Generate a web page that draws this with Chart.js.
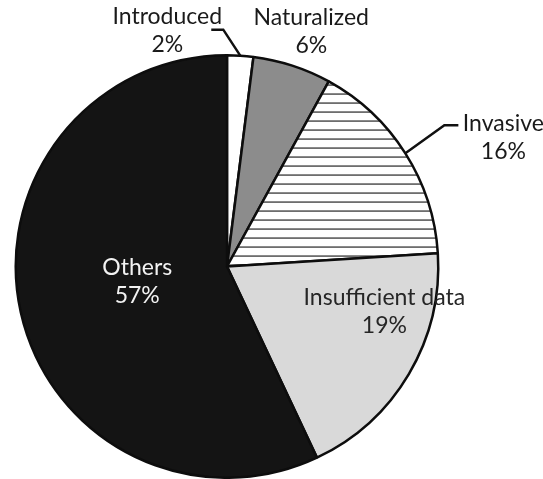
<!DOCTYPE html>
<html>
<head>
<meta charset="utf-8">
<script src="https://cdn.jsdelivr.net/npm/chart.js@4.4.1/dist/chart.umd.min.js"></script>
<style>
  html, body { margin: 0; padding: 0; background: #ffffff; }
  #wrap { width: 543px; height: 479px; }
</style>
</head>
<body>
<div id="wrap"><canvas id="pie" width="543" height="479"></canvas></div>
<script>
// Status categories, clockwise from 12 o'clock
const categories = ['Introduced', 'Naturalized', 'Invasive', 'Insufficient data', 'Others'];
// Share of species in each category (%)
const shares = [2, 6, 16, 19, 57];
// Percentage labels printed under each category name
const shareLabels = ['2%', '6%', '16%', '19%', '57%'];

// Horizontal hatching for the "Invasive" slice
function hatchPattern() {
  const c = document.createElement('canvas');
  c.width = 8; c.height = 9;
  const g = c.getContext('2d');
  g.fillStyle = '#ffffff';
  g.fillRect(0, 0, 8, 9);
  g.fillStyle = '#8a8a8a';
  g.fillRect(0, 3, 8, 2);
  g.fillStyle = '#6e6e6e';
  g.fillRect(0, 4, 8, 1);
  return g.createPattern(c, 'repeat');
}

const ctx = document.getElementById('pie').getContext('2d');
const fills = ['#ffffff', '#8c8c8c', hatchPattern(), '#d9d9d9', '#141414'];

const FONT = '23px Lato, "Open Sans", sans-serif';
const LINE = 28;

// Draws category names, percentages and leader lines
const sliceLabels = {
  id: 'sliceLabels',
  afterDatasetsDraw(chart) {
    const g = chart.ctx;
    const arcs = chart.getDatasetMeta(0).data;
    g.save();
    g.font = FONT;
    g.textAlign = 'center';
    g.textBaseline = 'middle';

    const edge = (arc) => {
      const p = arc.getProps(['x', 'y', 'startAngle', 'endAngle', 'outerRadius'], true);
      const mid = (p.startAngle + p.endAngle) / 2;
      return { cx: p.x, cy: p.y, r: p.outerRadius, x: p.x + Math.cos(mid) * p.outerRadius, y: p.y + Math.sin(mid) * p.outerRadius };
    };
    const twoLines = (i, x, y, color) => {
      g.fillStyle = color;
      g.fillText(categories[i], x, y);
      g.fillText(shareLabels[i], x, y + LINE);
    };

    g.strokeStyle = '#111111';
    g.lineWidth = 2.5;
    g.lineJoin = 'miter';

    // Introduced: leader line up-left to the name
    let e = edge(arcs[0]);
    g.beginPath();
    g.moveTo(e.x, e.y);
    g.lineTo(e.x - 17, e.y - 26);
    g.lineTo(e.x - 29, e.y - 26);
    g.stroke();
    twoLines(0, e.x - 73, e.y - 39, '#1a1a1a');

    // Naturalized: name just above the slice
    e = edge(arcs[1]);
    twoLines(1, e.x + 19, e.y - 48, '#1a1a1a');

    // Invasive: leader line up-right to the name
    e = edge(arcs[2]);
    g.beginPath();
    g.moveTo(e.x, e.y);
    g.lineTo(e.x + 39, e.y - 28);
    g.lineTo(e.x + 53, e.y - 28);
    g.stroke();
    twoLines(2, e.x + 98, e.y - 30, '#1a1a1a');

    // Labels inside the two large slices
    twoLines(3, e.cx + e.r * 0.745, e.cy + e.r * 0.145, '#262626');
    twoLines(4, e.cx - e.r * 0.425, e.cy + e.r * 0.005, '#f2f2f2');

    g.restore();
  }
};

new Chart(ctx, {
  type: 'pie',
  data: {
    labels: categories,
    datasets: [{
      data: shares,
      backgroundColor: fills,
      borderColor: '#0d0d0d',
      borderWidth: 2.5,
      borderAlign: 'center'
    }]
  },
  options: {
    responsive: false,
    animation: false,
    rotation: 0,
    layout: { padding: { left: 14, right: 103, top: 54, bottom: 0 } },
    plugins: {
      legend: { display: false },
      tooltip: { enabled: false }
    }
  },
  plugins: [sliceLabels]
});
</script>
</body>
</html>
